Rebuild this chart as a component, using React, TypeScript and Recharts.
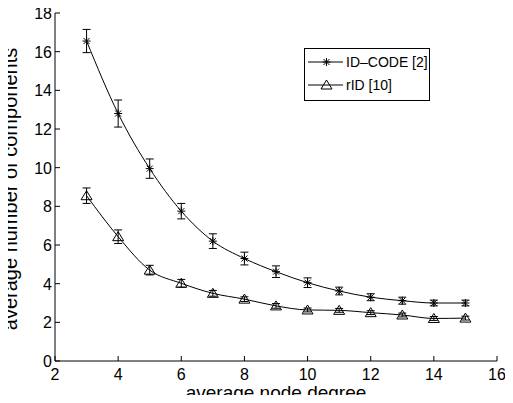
import { ComposedChart, Line, XAxis, YAxis, ErrorBar, Legend } from "recharts";

const degrees = [3, 4, 5, 6, 7, 8, 9, 10, 11, 12, 13, 14, 15];
const idCodeMean = [16.55, 12.8, 9.95, 7.75, 6.2, 5.3, 4.62, 4.05, 3.62, 3.3, 3.12, 3.0, 3.0];
const idCodeErr = [0.6, 0.7, 0.5, 0.4, 0.38, 0.33, 0.3, 0.25, 0.2, 0.18, 0.18, 0.15, 0.15];
const ridMean = [8.55, 6.43, 4.7, 4.02, 3.5, 3.2, 2.85, 2.64, 2.62, 2.5, 2.38, 2.2, 2.22];
const ridErr = [0.4, 0.35, 0.25, 0.2, 0.15, 0.12, 0.12, 0.1, 0.1, 0.1, 0.1, 0.1, 0.1];

const xTicks = [2, 4, 6, 8, 10, 12, 14, 16];
const yTicks = [0, 2, 4, 6, 8, 10, 12, 14, 16, 18];

const seriesNames = ["ID\u2013CODE [2]", "rID [10]"];

const data = degrees.map((d, i) => ({
  degree: d,
  idCode: idCodeMean[i],
  idCodeErr: idCodeErr[i],
  rid: ridMean[i],
  ridErr: ridErr[i],
}));

const FONT = '"Liberation Sans", Arial, Helvetica, sans-serif';
const TICK = 5;
const TICK_FONT = 16;

function Asterisk({ cx, cy }: { cx: number; cy: number }) {
  const r = 4;
  const d = 3;
  return (
    <g stroke="#000" strokeWidth={1}>
      <line x1={cx - r} y1={cy} x2={cx + r} y2={cy} />
      <line x1={cx} y1={cy - r} x2={cx} y2={cy + r} />
      <line x1={cx - d} y1={cy - d} x2={cx + d} y2={cy + d} />
      <line x1={cx - d} y1={cy + d} x2={cx + d} y2={cy - d} />
    </g>
  );
}

function Triangle({ cx, cy }: { cx: number; cy: number }) {
  return (
    <polygon
      points={`${cx},${cy - 5} ${cx - 5.5},${cy + 4} ${cx + 5.5},${cy + 4}`}
      fill="none"
      stroke="#000"
      strokeWidth={1}
    />
  );
}

function BottomTick({ x, y, payload }: any) {
  return (
    <g>
      <line x1={x} y1={y} x2={x} y2={y - TICK} stroke="#000" />
      <text x={x} y={y + 19} textAnchor="middle" fontSize={TICK_FONT} fontFamily={FONT} fill="#000">
        {payload.value}
      </text>
    </g>
  );
}

function TopTick({ x, y }: any) {
  return <line x1={x} y1={y} x2={x} y2={y + TICK} stroke="#000" />;
}

function LeftTick({ x, y, payload }: any) {
  return (
    <g>
      <line x1={x} y1={y} x2={x + TICK} y2={y} stroke="#000" />
      <text x={x - 3} y={y + 6} textAnchor="end" fontSize={TICK_FONT} fontFamily={FONT} fill="#000">
        {payload.value}
      </text>
    </g>
  );
}

function RightTick({ x, y }: any) {
  return <line x1={x} y1={y} x2={x - TICK} y2={y} stroke="#000" />;
}

function LegendBox() {
  const rows = [14, 37];
  return (
    <svg width={126} height={53} style={{ display: "block" }}>
      <rect x={0.5} y={0.5} width={125} height={52} fill="#fff" stroke="#000" strokeWidth={1} />
      {seriesNames.map((name, i) => (
        <g key={name}>
          <line x1={4} y1={rows[i]} x2={39} y2={rows[i]} stroke="#000" strokeWidth={1} />
          {i === 0 ? <Asterisk cx={22.5} cy={rows[i]} /> : <Triangle cx={22.5} cy={rows[i]} />}
          <text x={42} y={rows[i] + 5} fontSize={14} fontFamily={FONT} fill="#000">
            {name}
          </text>
        </g>
      ))}
    </svg>
  );
}

export default function App() {
  return (
    <div style={{ width: 513, height: 403, position: "relative", margin: -8, background: "#fff" }}>
      <ComposedChart width={513} height={403} data={data} margin={{ top: 13, right: 16, bottom: 0, left: 0 }}>
        <XAxis
          dataKey="degree"
          type="number"
          domain={[2, 16]}
          ticks={xTicks}
          interval={0}
          height={42}
          tickSize={0}
          tickMargin={0}
          tick={<BottomTick />}
          axisLine={{ stroke: "#000" }}
          label={(props: any) => {
            const vb = props.viewBox;
            return (
              <text x={vb.x + vb.width / 2} y={vb.y + 38} textAnchor="middle" fontSize={19} fontFamily={FONT} fill="#000">
                average node degree
              </text>
            );
          }}
        />
        <XAxis
          xAxisId="top"
          orientation="top"
          dataKey="degree"
          type="number"
          domain={[2, 16]}
          ticks={xTicks}
          interval={0}
          height={0}
          tickSize={0}
          tickMargin={0}
          tick={<TopTick />}
          axisLine={{ stroke: "#000" }}
        />
        <YAxis
          type="number"
          domain={[0, 18]}
          ticks={yTicks}
          interval={0}
          width={55}
          tickSize={0}
          tickMargin={0}
          tick={<LeftTick />}
          axisLine={{ stroke: "#000" }}
          label={(props: any) => {
            const vb = props.viewBox;
            const cx = 17;
            const cy = vb.y + vb.height / 2 + 2;
            return (
              <text
                x={cx}
                y={cy}
                transform={`rotate(-90, ${cx}, ${cy})`}
                textAnchor="middle"
                fontSize={20}
                fontFamily={FONT}
                fill="#000"
              >
                average number of components
              </text>
            );
          }}
        />
        <YAxis
          yAxisId="right"
          orientation="right"
          type="number"
          domain={[0, 18]}
          ticks={yTicks}
          interval={0}
          width={0}
          tickSize={0}
          tickMargin={0}
          tick={<RightTick />}
          axisLine={{ stroke: "#000" }}
        />
        <Legend
          verticalAlign="middle"
          align="center"
          content={() => <LegendBox />}
          wrapperStyle={{ left: 304, top: 48, width: 126, height: 53 }}
        />
        <Line
          dataKey="idCode"
          name={seriesNames[0]}
          type="monotone"
          stroke="#000"
          strokeWidth={1}
          isAnimationActive={false}
          activeDot={false}
          dot={(p: any) => <Asterisk key={`a${p.index}`} cx={p.cx} cy={p.cy} />}
        >
          <ErrorBar dataKey="idCodeErr" direction="y" width={4} stroke="#000" strokeWidth={1} isAnimationActive={false} />
        </Line>
        <Line
          dataKey="rid"
          name={seriesNames[1]}
          type="monotone"
          stroke="#000"
          strokeWidth={1}
          isAnimationActive={false}
          activeDot={false}
          dot={(p: any) => <Triangle key={`t${p.index}`} cx={p.cx} cy={p.cy} />}
        >
          <ErrorBar dataKey="ridErr" direction="y" width={4} stroke="#000" strokeWidth={1} isAnimationActive={false} />
        </Line>
      </ComposedChart>
    </div>
  );
}
